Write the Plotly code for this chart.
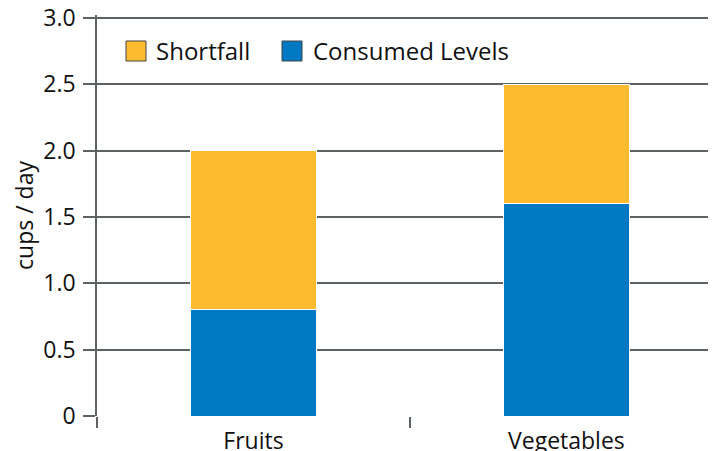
import plotly.graph_objects as go

categories = ["Fruits", "Vegetables"]
consumed = [0.8, 1.6]
shortfall = [1.2, 0.9]
series_names = ["Shortfall", "Consumed Levels"]
y_tick_vals = [0, 0.5, 1.0, 1.5, 2.0, 2.5, 3.0]
y_tick_text = ["0", "0.5", "1.0", "1.5", "2.0", "2.5", "3.0"]

YELLOW = "#FDBB2F"
BLUE = "#0079C2"
GRID = "#5d6264"
FONT = "Open Sans"

# page body has an 8px default margin; compensate so the visible window matches
OFF = 8
EXTRA = 3  # px of headroom above 3.0 so plotly keeps the top gridline
W, H = 716 - OFF, 451 - OFF
ML, MR, MT, MB = 97 - OFF, 0, 18 - OFF - EXTRA, 35
YMAX = 3.0
y_top = YMAX * (1 + EXTRA / 398)

fig = go.Figure()
fig.add_trace(go.Bar(x=categories, y=consumed, name=series_names[1], marker=dict(color=BLUE, line=dict(color="white", width=1)), width=0.4, showlegend=False))
fig.add_trace(go.Bar(x=categories, y=shortfall, name=series_names[0], marker=dict(color=YELLOW, line=dict(color="white", width=1)), width=0.4, showlegend=False))

# custom legend (pixel-positioned, window pixels)
pw = W - ML - MR
ph = H - MT - MB
def px(x):
    return (x - OFF - ML) / pw
def py(y):
    return 1 - (y - OFF - MT) / ph

legend_items = [(series_names[0], YELLOW, 126, 157), (series_names[1], BLUE, 282, 314)]
for name, col, sx, tx in legend_items:
    fig.add_shape(type="rect", xref="paper", yref="paper", x0=px(sx), x1=px(sx + 20), y0=py(61), y1=py(41),
                  fillcolor=col, line=dict(color="#444444", width=1))
    fig.add_annotation(xref="paper", yref="paper", x=px(tx - 3), y=py(51), text=name, showarrow=False,
                       xanchor="left", yanchor="middle", font=dict(family=FONT, size=24, color="#111111"))

fig.update_layout(
    barmode="stack",
    width=W, height=H,
    margin=dict(l=ML, r=MR, t=MT, b=MB, pad=0),
    plot_bgcolor="white", paper_bgcolor="white",
    font=dict(family=FONT, color="#111111"),
    bargap=0.6,
)
fig.update_xaxes(range=[-0.5, 1.478], showgrid=False, zeroline=False, showline=False, automargin=False,
                 tickson="boundaries", ticks="outside", ticklen=11, tickwidth=1.5, tickcolor=GRID,
                 ticklabelstandoff=9, ticklabeloverflow="allow",
                 tickfont=dict(family=FONT, size=23, color="#111111"))
fig.update_yaxes(range=[0, y_top], tickvals=y_tick_vals, ticktext=y_tick_text, automargin=False,
                 showgrid=True, gridcolor=GRID, gridwidth=1.5, zeroline=False,
                 showline=True, linecolor=GRID, linewidth=1.5,
                 ticks="outside", ticklen=12, tickwidth=1.5, tickcolor=GRID,
                 ticklabelstandoff=3, ticklabeloverflow="allow",
                 tickfont=dict(family=FONT, size=23, color="#111111"),
                 title=dict(text="cups / day", font=dict(family=FONT, size=23, color="#111111"), standoff=5))

fig.write_html("out.html")
